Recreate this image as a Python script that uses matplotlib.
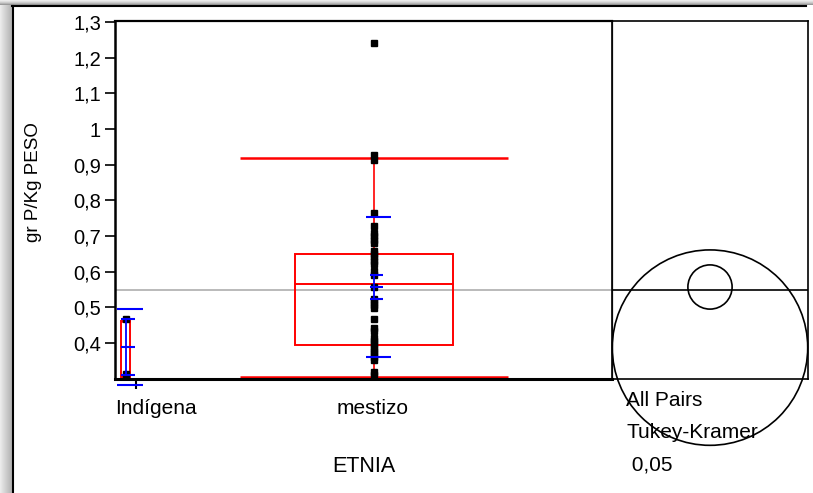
import matplotlib
matplotlib.use('Agg')
import matplotlib.pyplot as plt
from matplotlib.patches import Rectangle, Circle
from matplotlib.lines import Line2D
import numpy as np

plt.rcParams['font.family'] = ['Liberation Sans', 'DejaVu Sans']

# ---------------- data ----------------
categories = ['Indígena', 'mestizo']
group_n = [2, 45]
indigena_values = [0.467, 0.313]
mestizo_values = [1.24, 0.926, 0.912, 0.764, 0.728, 0.708, 0.699, 0.690, 0.681,
                  0.658, 0.649, 0.640, 0.631, 0.622, 0.601, 0.591, 0.556,
                  0.524, 0.515, 0.506, 0.498, 0.466, 0.443, 0.435,
                  0.414, 0.405, 0.396, 0.387, 0.378, 0.369, 0.360, 0.353,
                  0.318, 0.310]
box_low_whisker = [0.305, 0.305]
box_q1 = [0.305, 0.395]
box_median = [0.39, 0.566]
box_q3 = [0.462, 0.650]
box_high_whisker = [0.462, 0.919]
group_mean = [0.389, 0.557]
group_sd = [0.107, 0.195]
group_se = [0.078, 0.034]
grand_mean = 0.549
circle_centers = [0.387, 0.557]
circle_radii = [0.274, 0.062]
ytick_values = [0.4, 0.5, 0.6, 0.7, 0.8, 0.9, 1.0, 1.1, 1.2, 1.3]
ytick_labels = ['0,4', '0,5', '0,6', '0,7', '0,8', '0,9', '1', '1,1', '1,2', '1,3']
y_label = 'gr P/Kg PESO'
x_label = 'ETNIA'
test_lines = ['All Pairs', 'Tukey-Kramer', ' 0,05']

# ---------------- layout helpers ----------------
W, H = 813, 493
fig = plt.figure(figsize=(W / 100, H / 100), dpi=100)
fig.patch.set_facecolor('white')


def fx(px):
    return px / W


def fy(py):
    return 1 - py / H


AX_L, AX_R, AX_T, AX_B = 115, 612, 21, 379
CP_R = 808
YLIM = (0.299, 1.303)

# window frame / shadow
for i, g in enumerate(['#9a9a9a', '#b5b5b5', '#cccccc', '#dedede', '#ebebeb']):
    fig.add_artist(Rectangle((0, fy(5 - i)), 1, 1 / H, transform=fig.transFigure,
                             facecolor=g, edgecolor='none', zorder=0))
for i in range(12):
    g = 0.92 - 0.02 * i
    fig.add_artist(Rectangle((fx(i), 0), 1 / W, fy(5), transform=fig.transFigure,
                             facecolor=(g, g, g), edgecolor='none', zorder=0))
fig.add_artist(Line2D([fx(12), fx(806)], [fy(5.5), fy(5.5)], transform=fig.transFigure,
                      color='black', lw=1.5))
fig.add_artist(Line2D([fx(12.5), fx(12.5)], [fy(5.5), 0], transform=fig.transFigure,
                      color='black', lw=1.5))

# ---------------- main axes ----------------
ax = fig.add_axes([fx(AX_L), fy(AX_B), fx(AX_R) - fx(AX_L), fy(AX_T) - fy(AX_B)])
ntot = sum(group_n)
ax.set_xlim(0, ntot)
ax.set_ylim(*YLIM)
upx = ntot / (AX_R - AX_L)  # x data units per pixel

edges = np.concatenate([[0], np.cumsum(group_n)])
centers = (edges[:-1] + edges[1:]) / 2
box_frac = [0.21, 0.166]
cap_frac = [0.21, 0.2816]

ax.axhline(grand_mean, color='#b4b4b4', lw=1.3, zorder=1)

values = [indigena_values, mestizo_values]
for i, c in enumerate(centers):
    hw = box_frac[i] * group_n[i]
    cw = cap_frac[i] * group_n[i]
    red = '#ff0000'
    ax.add_patch(Rectangle((c - hw, box_q1[i]), 2 * hw, box_q3[i] - box_q1[i],
                           fill=False, edgecolor=red, lw=1.4, zorder=2))
    ax.plot([c - hw, c + hw], [box_median[i]] * 2, color=red, lw=1.4, zorder=2)
    ax.plot([c, c], [box_low_whisker[i], box_q1[i]], color=red, lw=1.2, zorder=2)
    ax.plot([c, c], [box_q3[i], box_high_whisker[i]], color=red, lw=1.2, zorder=2)
    ax.plot([c - cw, c + cw], [box_low_whisker[i]] * 2, color=red, lw=1.8, zorder=2,
            solid_capstyle='butt', clip_on=False)
    ax.plot([c - cw, c + cw], [box_high_whisker[i]] * 2, color=red, lw=1.8, zorder=2,
            solid_capstyle='butt')
    ax.plot([c] * len(values[i]), values[i], linestyle='none', marker='s',
            color='black', ms=4.1, zorder=3, clip_on=False)
    blue = '#0000ff'
    m, sd, se = group_mean[i], group_sd[i], group_se[i]
    for yv in (m - sd, m + sd):
        ax.plot([c - 8.5 * upx, c + 17 * upx], [yv, yv], color=blue, lw=1.5,
                zorder=4, clip_on=False, solid_capstyle='butt')
    for yv in (m - se, m, m + se):
        ax.plot([c - 4.5 * upx, c + 9 * upx], [yv, yv], color=blue, lw=1.5,
                zorder=4, clip_on=False, solid_capstyle='butt')
    ax.plot([c, c], [m - se, m + se], color=blue, lw=1.3, zorder=4)

# spines
ax.spines['left'].set_linewidth(1.8)
ax.spines['bottom'].set_linewidth(2.2)
ax.spines['top'].set_linewidth(1.6)
ax.spines['right'].set_linewidth(0.9)
ax.spines['right'].set_color('#303030')
for s in ax.spines.values():
    s.set_zorder(5)

ax.set_yticks(ytick_values)
ax.set_yticklabels(ytick_labels)
ax.tick_params(axis='y', direction='out', length=7, width=1.2, labelsize=14.5, pad=3)
ax.set_xticks([edges[1]])
ax.set_xticklabels([''])
ax.tick_params(axis='x', direction='out', length=7, width=1.5)

ax.set_ylabel(y_label, fontsize=13.5)
ax.yaxis.set_label_coords((42 - AX_L) / (AX_R - AX_L), (AX_B - 182) / (AX_B - AX_T))

# category labels
fig.text(fx(AX_L), fy(409), categories[0], ha='left', va='center', fontsize=15)
fig.text(fx(AX_L + centers[1] / upx - 2), fy(409), categories[1], ha='center', va='center',
         fontsize=15)
fig.text(fx((AX_L + AX_R) / 2), fy(467), x_label, ha='center', va='center', fontsize=15.5)

# ---------------- comparison circles panel ----------------
cax = fig.add_axes([fx(AX_R), fy(AX_B), fx(CP_R) - fx(AX_R), fy(AX_T) - fy(AX_B)])
ypp = (YLIM[1] - YLIM[0]) / (AX_B - AX_T)
xr = (CP_R - AX_R) * ypp
cax.set_xlim(0, xr)
cax.set_ylim(*YLIM)
cax.set_xticks([])
cax.set_yticks([])
cax.patch.set_alpha(0)
for s in cax.spines.values():
    s.set_linewidth(1.2)
cax.axhline(grand_mean, color='black', lw=1.2)
for cy, r in zip(circle_centers, circle_radii):
    cax.add_patch(Circle((xr / 2, cy), r, fill=False, edgecolor='black', lw=1.2,
                         clip_on=False))

for k, (t, py) in enumerate(zip(test_lines, [400, 432, 465])):
    fig.text(fx(626), fy(py), t, ha='left', va='center', fontsize=15)

fig.savefig('out.png', dpi=100)
